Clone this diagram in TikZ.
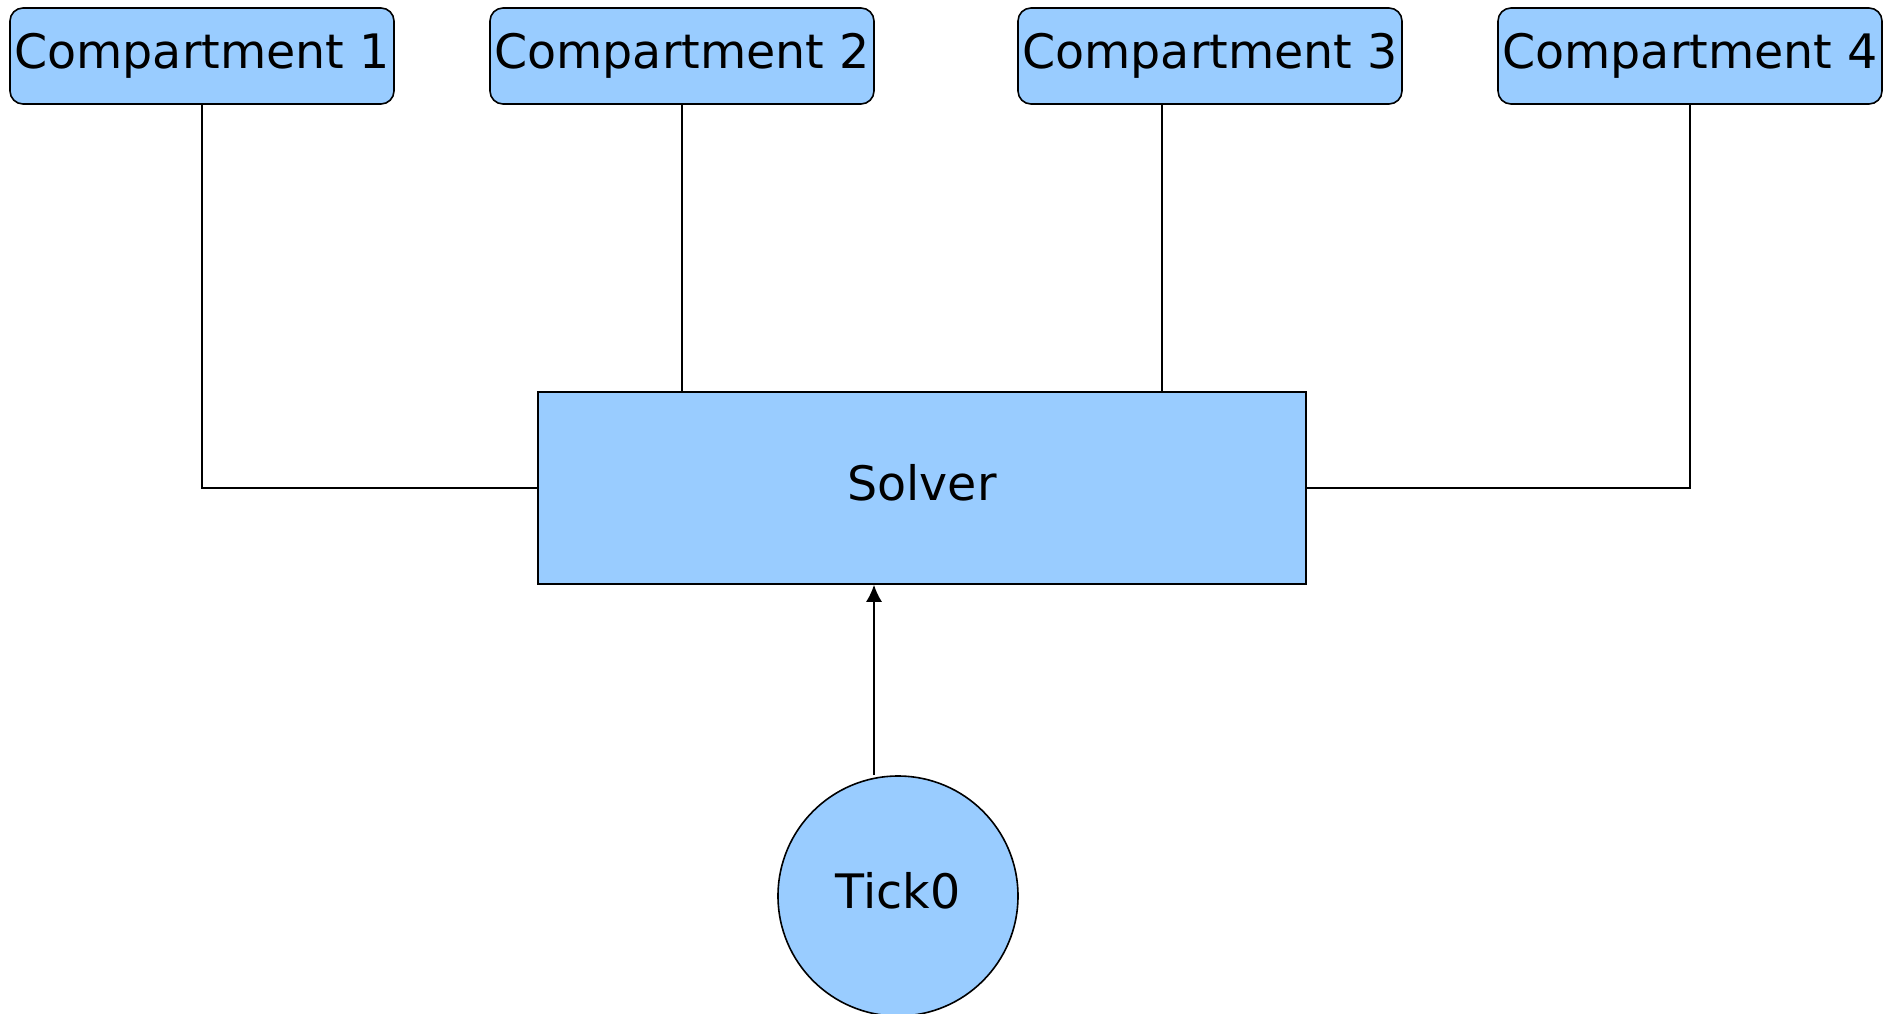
\documentclass[tikz,border=0pt]{standalone}
\usepackage{fontspec}
\setmainfont{DejaVu Sans}
\usetikzlibrary{arrows.meta}
\definecolor{boxblue}{RGB}{153,204,255}
\tikzset{
  compbox/.style={draw,fill=boxblue,rounded corners=13pt,line width=1.6pt,
    minimum width=384pt,minimum height=96pt,inner sep=0pt},
  solverbox/.style={draw,fill=boxblue,line width=1.6pt,
    minimum width=768pt,minimum height=192pt,inner sep=0pt},
  tickcirc/.style={draw,circle,fill=boxblue,line width=1.6pt,
    minimum size=240pt,inner sep=0pt},
  conn/.style={line width=1.6pt}
}

\begin{document}
\begin{tikzpicture}[x=1pt,y=1pt,font=\fontsize{47.5}{57}\selectfont,
    text height=36pt,text depth=11pt]
  \useasboundingbox (0,0) rectangle (1898,-1013);
  \coordinate (C1) at (202,-56);
  \coordinate (C2) at (682,-56);
  \coordinate (C3) at (1210,-56);
  \coordinate (C4) at (1690,-56);
  \coordinate (S)  at (922,-488);
  \coordinate (T)  at (898,-896);

  \node[compbox]   (comp1)  at (C1) {Compartment 1};
  \node[compbox]   (comp2)  at (C2) {Compartment 2};
  \node[compbox]   (comp3)  at (C3) {Compartment 3};
  \node[compbox]   (comp4)  at (C4) {Compartment 4};
  \node[solverbox] (solver) at (S)  {Solver};
  \node[tickcirc]  (tick)   at (T)  {Tick0};

  \draw[conn] (comp1.south) |- (solver.west);
  \draw[conn] (comp2.south) -- (comp2.south |- solver.north);
  \draw[conn] ([xshift=-48pt]comp3.south) -- ([xshift=-48pt]comp3.south |- solver.north);
  \draw[conn] (comp4.south) |- (solver.east);
  \draw[conn,-{Latex[length=17pt,width=16pt]}] ([xshift=-24pt]tick.north)
    -- ([xshift=-24pt]tick.north |- solver.south);
\end{tikzpicture}
\end{document}
